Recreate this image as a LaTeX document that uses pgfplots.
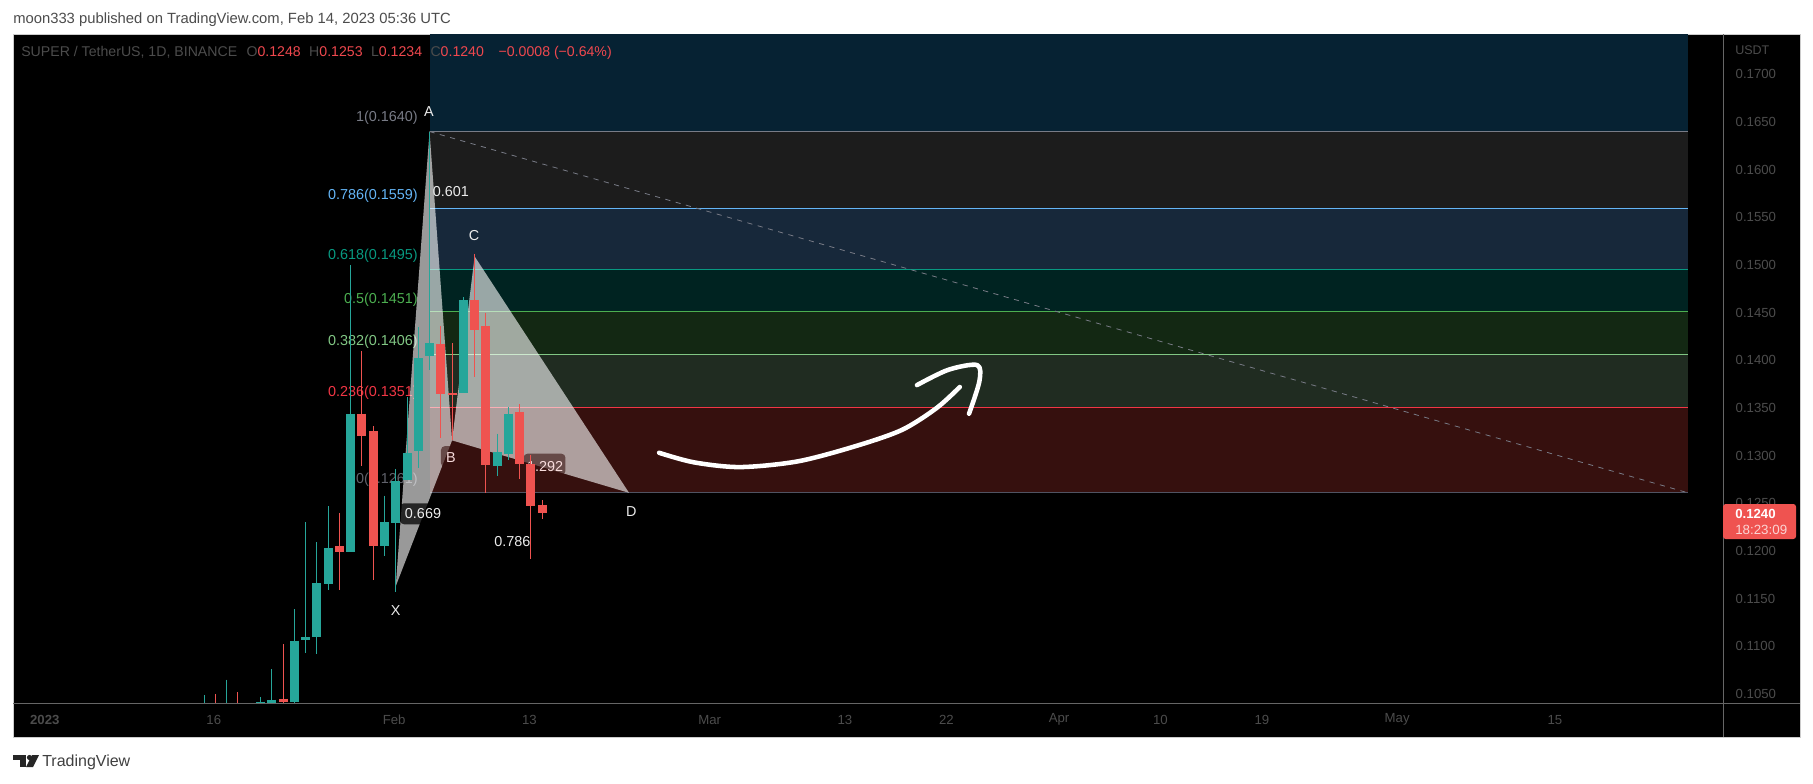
\documentclass[border=0pt]{standalone}
\usepackage{fontspec}
\setmainfont{Liberation Sans}
\usepackage{pgfplots}
\usepackage{pgfplotstable}
\pgfplotsset{compat=1.18}

\definecolor{upc}{HTML}{26A69A}
\definecolor{dnc}{HTML}{EF5350}
\definecolor{dim}{HTML}{4C4C4C}
\definecolor{legred}{HTML}{F0484E}
\definecolor{lv0}{HTML}{787B86}
\definecolor{lv236}{HTML}{F23645}
\definecolor{lv382}{HTML}{81C784}
\definecolor{lv5}{HTML}{4CAF50}
\definecolor{lv618}{HTML}{089981}
\definecolor{lv786}{HTML}{64B5F6}
\definecolor{zt}{HTML}{062233}
\definecolor{z1}{HTML}{1C1C1C}
\definecolor{z786}{HTML}{17283A}
\definecolor{z618}{HTML}{002321}
\definecolor{z5}{HTML}{132813}
\definecolor{z382}{HTML}{202C21}
\definecolor{z236}{HTML}{36100E}
\definecolor{pinktxt}{HTML}{F8DCDC}

% day 0 = Feb 1 2023
\pgfplotstableread{
d o h l c
-17 .1035 .1049 .1030 .1035
-15 .1035 .1065 .1030 .1035
-12 .1039 .1047 .1039 .1042
-11 .1041 .1076 .1036 .1044
-9 .1042 .1139 .1041 .1106
-8 .1107 .1230 .1093 .1110
-7 .1110 .1209 .1092 .1166
-6 .1165 .1247 .1159 .1203
-4 .1199 .1500 .1199 .1344
-1 .1205 .1258 .1195 .1230
0 .1229 .1286 .1157 .1273
1 .1274 .1361 .1274 .1303
2 .1305 .1435 .1287 .1402
3 .1404 .1640 .1390 .1418
6 .1366 .1466 .1366 .1463
9 .12895 .1323 .1279 .1304
10 .1302 .1351 .1295 .1344
}\upbars
\pgfplotstableread{
d o h l c
-16 .1035 .1050 .1030 .1035
-14 .1035 .1052 .1030 .1035
-10 .1045 .1102 .1036 .1042
-5 .1205 .1240 .1159 .1199
-3 .1344 .1410 .1289 .1321
-2 .1326 .1331 .1170 .1205
4 .1417 .1436 .1318 .1365
5 .1366 .1418 .1316 .1364
7 .1463 .1512 .1382 .1432
8 .1436 .1450 .1261 .1290
11 .1346 .1354 .1275 .1291
12 .1291 .1301 .1192 .1247
13 .1248 .1253 .1234 .1240
}\dnbars

\begin{document}
\begin{tikzpicture}
\fill[white] (0,0) rectangle (1813*0.75pt,-783*0.75pt);
\fill[black] (13*0.75pt,-34*0.75pt) rectangle (1800*0.75pt,-737*0.75pt);
\draw[color=black!20,line width=0.75pt] (13*0.75pt,-34*0.75pt) rectangle (1800*0.75pt,-737*0.75pt);
\node[anchor=west,inner sep=0pt,text=black!70] at (13*0.75pt,-20*0.75pt) {\fontsize{11.1}{13}\selectfont moon333 published on TradingView.com, Feb 14, 2023 05:36 UTC};

\begin{axis}[
  at={(13*0.75pt,-703*0.75pt)}, anchor=south west,
  scale only axis, width=1282.5pt, height=501.75pt,
  xmin=-33.96, xmax=117.77, ymin=0.10405, ymax=0.17423,
  axis line style={draw=none},
  major tick length=0pt,
  xtick={-31,-16,0,12,28,40,49,59,68,77,89,103},
  xticklabels={\textbf{2023},16,Feb,13,Mar,13,22,Apr,10,19,May,15},
  ytick={0.105,0.11,0.115,0.12,0.125,0.13,0.135,0.14,0.145,0.15,0.155,0.16,0.165,0.17},
  ymajorgrids=false,
  yticklabel pos=right,
  scaled y ticks=false,
  /pgf/number format/fixed,
  /pgf/number format/fixed zerofill,
  /pgf/number format/precision=4,
  /pgf/number format/assume math mode=true,
  y tick label style={anchor=west,text=dim,font=\fontsize{9.9}{12}\selectfont,xshift=6pt},
  x tick label style={anchor=center,text=dim,font=\fontsize{9.9}{12}\selectfont,yshift=-12.5pt,xshift=-1.2pt},
]
% fib zones
\addplot[fill=zt,draw=none,forget plot] coordinates {(3,.1640)(114.66,.1640)(114.66,.17423)(3,.17423)} -- cycle;
\addplot[fill=z1,draw=none,forget plot] coordinates {(3,.1559)(114.66,.1559)(114.66,.1640)(3,.1640)} -- cycle;
\addplot[fill=z786,draw=none,forget plot] coordinates {(3,.1495)(114.66,.1495)(114.66,.1559)(3,.1559)} -- cycle;
\addplot[fill=z618,draw=none,forget plot] coordinates {(3,.1451)(114.66,.1451)(114.66,.1495)(3,.1495)} -- cycle;
\addplot[fill=z5,draw=none,forget plot] coordinates {(3,.1406)(114.66,.1406)(114.66,.1451)(3,.1451)} -- cycle;
\addplot[fill=z382,draw=none,forget plot] coordinates {(3,.1351)(114.66,.1351)(114.66,.1406)(3,.1406)} -- cycle;
\addplot[fill=z236,draw=none,forget plot] coordinates {(3,.1261)(114.66,.1261)(114.66,.1351)(3,.1351)} -- cycle;
% fib levels
\addplot[lv0,line width=0.75pt] coordinates {(3,.1640)(114.66,.1640)};
\addplot[lv786,line width=0.75pt] coordinates {(3,.1559)(114.66,.1559)};
\addplot[lv618,line width=0.75pt] coordinates {(3,.1495)(114.66,.1495)};
\addplot[lv5,line width=0.75pt] coordinates {(3,.1451)(114.66,.1451)};
\addplot[lv382,line width=0.75pt] coordinates {(3,.1406)(114.66,.1406)};
\addplot[lv236,line width=0.75pt] coordinates {(3,.1351)(114.66,.1351)};
\addplot[lv0!130,line width=0.75pt] coordinates {(3,.1261)(114.66,.1261)};
\addplot[lv0,line width=0.6pt,dash pattern=on 3.9pt off 4.1pt] coordinates {(3,.1640)(114.66,.1261)};
% level names
\newcommand{\lev}[4]{\node[anchor=east,inner sep=0pt,text=#1,font=\fontsize{10.8}{13}\selectfont] at (axis cs:#2,#3) {#4};}
\lev{lv0}{1.98}{.1654}{1(0.1640)}
\lev{lv786}{1.98}{.1573}{0.786(0.1559)}
\lev{lv618}{1.98}{.1510}{0.618(0.1495)}
\lev{lv5}{1.98}{.1464}{0.5(0.1451)}
\lev{lv382}{1.98}{.1419}{0.382(0.1406)}
\lev{lv236}{1.98}{.1366}{0.236(0.1351)}
\lev{lv0!80!black}{1.98}{.1275}{0(0.1261)}
% XABCD pattern
\addplot[fill=white,fill opacity=0.6,draw=none,forget plot] coordinates {(0,.1163)(3,.1640)(5,.1316)} -- cycle;
\addplot[fill=white,fill opacity=0.6,draw=none,forget plot] coordinates {(5,.1316)(7,.1509)(20.7,.1261)} -- cycle;
% pattern labels
\newcommand{\plab}[3]{\node[inner sep=0pt,text=white!92!black,font=\fontsize{10.8}{13}\selectfont] at (axis cs:#1,#2) {#3};}
\newcommand{\blab}[5]{\node[inner sep=0pt,minimum width=#3*0.75pt,minimum height=21*0.75pt,rounded corners=3pt,fill=#5,fill opacity=#4] at (axis cs:#1,#2) {};}
\plab{2.95}{.16605}{A}
\plab{0}{.1138}{X}
\blab{4.9}{.1299}{20}{0.6}{z236}
\node[inner sep=0pt,text=pinktxt,font=\fontsize{10.8}{13}\selectfont] at (axis cs:4.9,.1298) {B};
\plab{6.95}{.1531}{C}
\plab{20.9}{.1241}{D}
\plab{4.9}{.1577}{0.601}
\blab{2.42}{.1239}{46}{0.75}{black}
\plab{2.42}{.1239}{0.669}
\plab{10.36}{.1210}{0.786}
\blab{13.2}{.1291}{42}{0.6}{z236}
\node[inner sep=0pt,text=pinktxt,font=\fontsize{10.8}{13}\selectfont] at (axis cs:13.25,.1289) {1.292};
% candles: wick then body
\addplot[draw=none,mark=none,forget plot,error bars/.cd,y dir=minus,y explicit,error mark=none,error bar style={line width=0.75pt,color=upc}]
  table[x=d,y=h,y error expr=\thisrow{h}-\thisrow{l}] {\upbars};
\addplot[draw=none,mark=none,forget plot,error bars/.cd,y dir=minus,y explicit,error mark=none,error bar style={line width=6.75pt,color=upc}]
  table[x=d,y=c,y error expr=\thisrow{c}-\thisrow{o}] {\upbars};
\addplot[draw=none,mark=none,forget plot,error bars/.cd,y dir=minus,y explicit,error mark=none,error bar style={line width=0.75pt,color=dnc}]
  table[x=d,y=h,y error expr=\thisrow{h}-\thisrow{l}] {\dnbars};
\addplot[draw=none,mark=none,forget plot,error bars/.cd,y dir=minus,y explicit,error mark=none,error bar style={line width=6.75pt,color=dnc}]
  table[x=d,y=o,y error expr=\thisrow{o}-\thisrow{c}] {\dnbars};
% hand drawn arrow
\addplot[white,line width=3.4pt,smooth,line cap=round,line join=round] coordinates {
  (23.37,.1303)(26.45,.1293)(30.55,.1288)(35.68,.1294)(40.81,.1310)(44.92,.1327)(48.0,.1350)(50.05,.1372)};
\addplot[white,line width=3.4pt,smooth,line cap=round,line join=round] coordinates {
  (46.25,.1374)(49.02,.1390)(51.59,.1395)(51.79,.1378)(50.87,.1344)};
\end{axis}

% frame lines
\draw[color=black!60,line width=0.75pt] (13*0.75pt,-703.5*0.75pt) -- (1800*0.75pt,-703.5*0.75pt);
\draw[color=black!60,line width=0.75pt] (1723.5*0.75pt,-34*0.75pt) -- (1723.5*0.75pt,-737*0.75pt);
\node[anchor=west,inner sep=0pt,text=dim,font=\fontsize{9.4}{12}\selectfont] at (1735*0.75pt,-50*0.75pt) {USDT};
% legend line
\node[anchor=west,inner sep=0pt,font=\fontsize{10.6}{13}\selectfont,text=dim] at (21*0.75pt,-53*0.75pt) {SUPER / TetherUS, 1D, BINANCE\hspace{7pt}O\textcolor{legred}{0.1248}\hspace{6.3pt}H\textcolor{legred}{0.1253}\hspace{6.3pt}L\textcolor{legred}{0.1234}\hspace{6.3pt}C\textcolor{legred}{0.1240}\hspace{11pt}\textcolor{legred}{−0.0008 (−0.64\%)}};
% last price tag
\fill[dnc,rounded corners=2pt] (1723*0.75pt,-504*0.75pt) rectangle (1796*0.75pt,-539*0.75pt);
\node[anchor=west,inner sep=0pt,text=white,font=\fontsize{9.9}{12}\selectfont\bfseries] at (1735*0.75pt,-514*0.75pt) {0.1240};
\node[anchor=west,inner sep=0pt,text=white!75!dnc,font=\fontsize{10}{12}\selectfont] at (1735*0.75pt,-530*0.75pt) {18:23:09};
% logo
\fill[black!85] (13*0.75pt,-755*0.75pt) rectangle (26*0.75pt,-760*0.75pt);
\fill[black!85] (20*0.75pt,-760*0.75pt) rectangle (26*0.75pt,-767*0.75pt);
\fill[black!85] (29.5*0.75pt,-757.5*0.75pt) circle (2.6*0.75pt);
\fill[black!85] (32*0.75pt,-755*0.75pt) -- (39*0.75pt,-755*0.75pt) -- (33*0.75pt,-767*0.75pt) -- (26*0.75pt,-767*0.75pt) -- cycle;
\node[anchor=west,inner sep=0pt,text=black!75,font=\fontsize{12}{14}\selectfont] at (42*0.75pt,-762*0.75pt) {TradingView};
\end{tikzpicture}
\end{document}
